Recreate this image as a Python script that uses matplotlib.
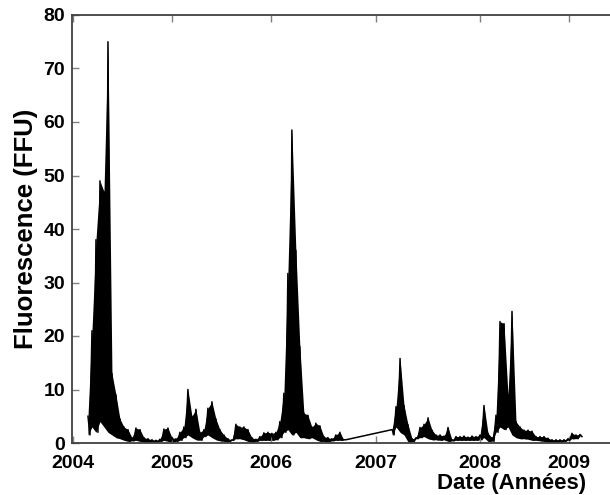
import matplotlib.pyplot as plt
import numpy as np

# fluorescence record, decimal years; sampled every ~15 days, upper/lower swing of each cycle
step = 0.0403
start_1 = 2004.151
start_2 = 2007.216

peaks_1 = [5, 21, 38, 49, 47, 75, 13, 9, 4.5, 3,
           2.5, 1, 2.8, 2.5, 1, 0.8, 0.6, 0.5, 0.7, 2.6,
           2.8, 1, 0.8, 2, 3, 10, 5, 6.3, 2, 2.5,
           6.5, 7.7, 4.5, 2.5, 1.5, 0.8, 0.6, 3.5, 3, 3,
           2.5, 1, 0.7, 1.2, 1.9, 2, 1.8, 2, 4, 9.3,
           31.7, 58.5, 36, 18, 5.6, 5.2, 3, 3.7, 3.2, 1.2,
           1, 0.8, 1.5, 2, 0.6]
troughs_1 = [1.5, 3, 2, 4, 3, 2, 1.5, 1, 0.8, 0.5,
             0.3, 0.4, 0.5, 0.3, 0.2, 0.2, 0.2, 0.2, 0.3, 0.5,
             0.3, 0.2, 0.3, 0.5, 1, 1.5, 1, 0.6, 0.5, 1.2,
             1.5, 1, 0.6, 0.4, 0.3, 0.2, 0.5, 0.8, 0.8, 0.6,
             0.3, 0.2, 0.3, 0.5, 0.5, 0.5, 0.5, 0.6, 1, 2,
             2.5, 1.5, 2, 1, 1, 0.8, 1, 0.6, 0.3, 0.3,
             0.2, 0.4, 0.5, 0.5, 0.6]

peaks_2 = [2.5, 6.8, 15.8, 7, 3.4, 0.8, 1, 2.9, 3.5, 4.7,
           2.4, 1.5, 1.5, 1.3, 2.9, 0.6, 1.2, 1.2, 1.3, 1.1,
           1.3, 1.2, 1.5, 7, 1.8, 1, 5.2, 22.7, 22.3, 9,
           24.6, 4, 3, 2.4, 2.4, 2.2, 1.2, 1.2, 1.2, 0.9,
           0.6, 0.6, 0.6, 0.6, 0.8, 1.8, 1.5, 1.6]
troughs_2 = [1.5, 3, 2, 1.5, 0.2, 0.2, 0.8, 1, 1.2, 0.8,
             0.6, 0.6, 0.5, 0.6, 0.3, 0.4, 0.5, 0.5, 0.5, 0.5,
             0.5, 0.5, 0.6, 1, 0.3, 0.3, 2, 3, 2.5, 3,
             1.5, 1, 0.8, 0.8, 0.7, 0.5, 0.5, 0.4, 0.3, 0.2,
             0.2, 0.2, 0.2, 0.3, 0.5, 0.8, 0.8, 1.2]

year_ticks = [2004.0, 2005.0, 2006.0, 2007.05, 2008.1, 2009.0]
year_labels = ['2004', '2005', '2006', '2007', '2008', '2009']


def segment(start, hi, lo):
    t_hi = start + step * np.arange(len(hi))
    t = np.column_stack([t_hi, t_hi + step / 2]).ravel()
    v = np.column_stack([hi, lo]).ravel()
    return t_hi, t, v


th1, t1, v1 = segment(start_1, peaks_1, troughs_1)
th2, t2, v2 = segment(start_2, peaks_2, troughs_2)
dates = np.concatenate([t1, t2])
fluo = np.concatenate([v1, v2])

plt.rcParams['font.family'] = ['Liberation Sans', 'DejaVu Sans']
plt.rcParams['font.weight'] = 'bold'

fig = plt.figure(figsize=(6.10, 4.95), dpi=100)
ax = fig.add_axes([72 / 610, 52 / 495, 540 / 610, 428 / 495])
# dense daily record: fill the swing band so the blooms read as solid
ax.fill_between(th1, troughs_1, peaks_1, color='black', linewidth=0)
ax.fill_between(th2, troughs_2, peaks_2, color='black', linewidth=0)
ax.plot(dates, fluo, color='black', linewidth=1.1)

ax.set_xlim(2003.99, 2009.433)
ax.set_ylim(0, 80)
ax.set_yticks(range(0, 81, 10))
ax.set_xticks(year_ticks)
ax.set_xticklabels(year_labels)

for side in ['left', 'bottom', 'top', 'right']:
    ax.spines[side].set_color('#404040')
    ax.spines[side].set_linewidth(1.3)
ax.tick_params(direction='in', length=5, width=1, color='#808080',
               top=True, right=False, labelsize=14)
ax.tick_params(axis='x', pad=9)
ax.tick_params(axis='y', pad=5)

ax.set_ylabel('Fluorescence (FFU)', fontsize=18.5, fontweight='bold')
ax.yaxis.set_label_coords(-0.063, 0.5)
ax.set_xlabel('Date (Années)', fontsize=16, fontweight='bold', ha='right')
ax.xaxis.set_label_coords(0.953, -0.069)

fig.savefig('out.png', dpi=100)
